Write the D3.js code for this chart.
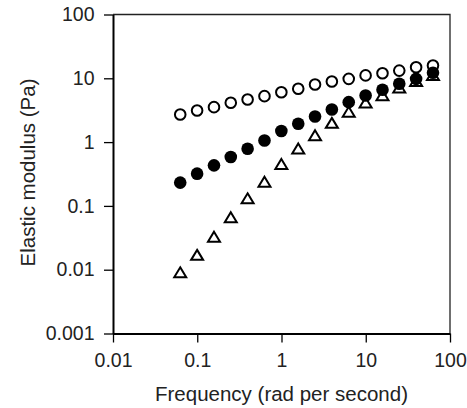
<!DOCTYPE html>
<html>
<head>
<meta charset="utf-8">
<script src="https://cdn.jsdelivr.net/npm/d3@7"></script>
<style>
  body { margin: 0; background: #fff; }
  svg { display: block; font-family: "Liberation Sans", Arial, sans-serif; }
</style>
</head>
<body>
<svg></svg>
<script>
// frequency points (rad/s)
var freq = [0.0628, 0.0996, 0.158, 0.250, 0.396, 0.628, 0.996, 1.58,
            2.50, 3.96, 6.28, 9.96, 15.8, 25.0, 39.6, 62.8];
// open circles
var openVals = [2.71, 3.13, 3.53, 4.14, 4.66, 5.25, 6.06, 6.85,
                8.0, 8.9, 9.8, 11.1, 12.0, 13.2, 14.9, 15.9];
// filled circles
var filledVals = [0.232, 0.32, 0.432, 0.583, 0.788, 1.06, 1.49, 1.94,
                  2.52, 3.25, 4.23, 5.38, 6.6, 8.2, 9.8, 12.2];
// open triangles
var triVals = [0.0090, 0.0169, 0.0326, 0.0656, 0.130, 0.237, 0.448, 0.788,
               1.27, 1.98, 2.95, 4.14, 5.38, 7.1, 9.0, 11.1];

var xTicks = [0.01, 0.1, 1, 10, 100];
var xTickLabels = ["0.01", "0.1", "1", "10", "100"];
var yTicks = [0.001, 0.01, 0.1, 1, 10, 100];
var yTickLabels = ["0.001", "0.01", "0.1", "1", "10", "100"];

var width = 467, height = 408;
var pLeft = 113, pRight = 450, pTop = 14.5, pBottom = 333.5;

var svg = d3.select("svg")
            .attr("width", width)
            .attr("height", height);

var x = d3.scaleLog().domain([0.01, 100]).range([pLeft, pRight]);
var y = d3.scaleLog().domain([0.001, 100]).range([pBottom, pTop]);

// frame top/right
svg.append("path")
   .attr("d", "M" + pLeft + "," + pTop + "H" + pRight + "V" + pBottom)
   .attr("fill", "none")
   .attr("stroke", "#222")
   .attr("stroke-width", 1.3);

var xAxis = svg.append("g")
   .attr("transform", "translate(0," + pBottom + ")")
   .call(d3.axisBottom(x).tickValues(xTicks)
           .tickFormat(function(d, i){ return xTickLabels[i]; })
           .tickSize(9).tickPadding(11).tickSizeOuter(0));

var yAxis = svg.append("g")
   .attr("transform", "translate(" + pLeft + ",0)")
   .call(d3.axisLeft(y).tickValues(yTicks)
           .tickFormat(function(d, i){ return yTickLabels[i]; })
           .tickSize(9).tickPadding(9.5).tickSizeOuter(0));

[xAxis, yAxis].forEach(function(g){
  g.select(".domain").attr("stroke", "#000").attr("stroke-width", 2);
  g.selectAll(".tick line").attr("stroke", "#000").attr("stroke-width", 1.3);
  g.selectAll(".tick text").attr("fill", "#222")
   .style("font-size", "19.5px")
   .style("font-family", "'Liberation Sans', Arial, sans-serif");
});

svg.append("text")
   .attr("x", (pLeft + pRight) / 2)
   .attr("y", 400.5)
   .attr("text-anchor", "middle")
   .attr("fill", "#222")
   .style("font-size", "20.5px")
   .text("Frequency (rad per second)");

svg.append("text")
   .attr("transform", "translate(35,172.5) rotate(-90)")
   .attr("text-anchor", "middle")
   .attr("fill", "#222")
   .style("font-size", "20.5px")
   .text("Elastic modulus (Pa)");

var plot = svg.append("g");

plot.selectAll("circle.open")
    .data(freq)
    .enter()
    .append("circle")
    .attr("class", "open")
    .attr("cx", function(d){ return x(d); })
    .attr("cy", function(d, i){ return y(openVals[i]); })
    .attr("r", 5.3)
    .attr("fill", "#fff")
    .attr("stroke", "#000")
    .attr("stroke-width", 2);

var tri = "M0,-5.3L6,4.7L-6,4.7Z";
plot.selectAll("path.tri")
    .data(freq)
    .enter()
    .append("path")
    .attr("class", "tri")
    .attr("d", tri)
    .attr("transform", function(d, i){
      return "translate(" + x(d) + "," + y(triVals[i]) + ")";
    })
    .attr("fill", "#fff")
    .attr("stroke", "#000")
    .attr("stroke-width", 2)
    .attr("stroke-linejoin", "miter");

plot.selectAll("circle.filled")
    .data(freq)
    .enter()
    .append("circle")
    .attr("class", "filled")
    .attr("cx", function(d){ return x(d); })
    .attr("cy", function(d, i){ return y(filledVals[i]); })
    .attr("r", 6.3)
    .attr("fill", "#000");
</script>
</body>
</html>
